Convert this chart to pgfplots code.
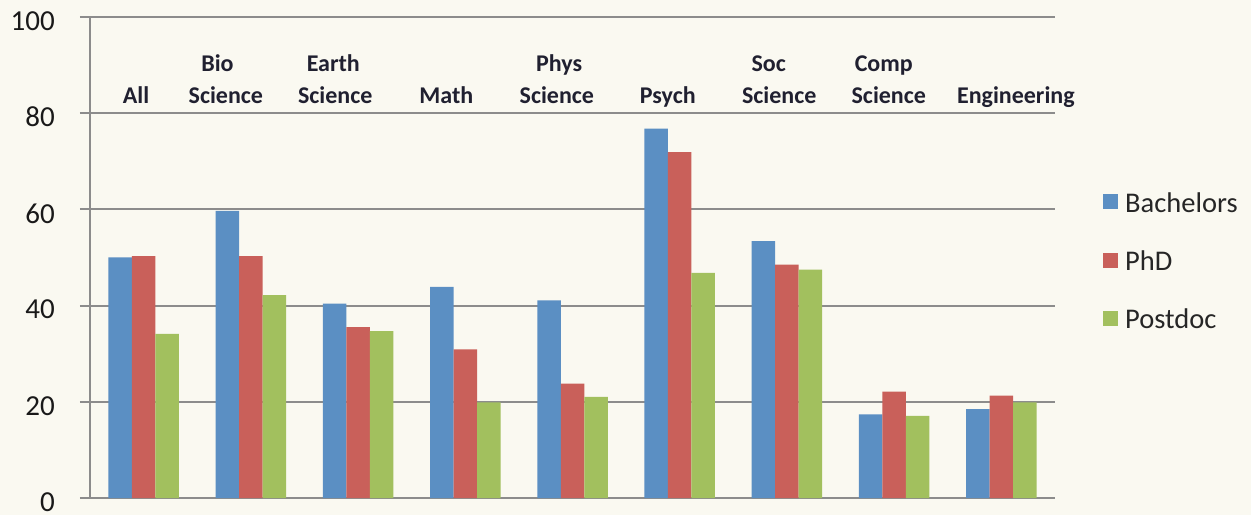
\documentclass[border=0pt]{standalone}
\usepackage{fontspec}
\setmainfont{Carlito}
\usepackage{pgfplots}
\pgfplotsset{compat=1.18}
\definecolor{cBlue}{HTML}{5B8FC3}
\definecolor{cRed}{HTML}{C9605A}
\definecolor{cGreen}{HTML}{A2C05E}
\definecolor{bgc}{HTML}{FAF9F1}
\definecolor{gridc}{HTML}{8C8C8C}
\definecolor{labc}{HTML}{202030}
\tikzset{catlab/.style={anchor=base, inner sep=0pt, text=labc, font=\bfseries\fontsize{24}{24}\selectfont}}
\begin{document}
\begin{tikzpicture}
\fill[bgc] (-90pt,-17pt) rectangle (1161pt,498pt);
\begin{axis}[
 at={(0pt,0pt)}, anchor=south west,
 scale only axis, width=965pt, height=481pt,
 ymin=0, ymax=100, xmin=-0.5, xmax=8.5,
 ybar=0pt, bar width=23.5pt,
 axis x line*=bottom, axis y line*=left,
 axis line style={gridc, line width=2pt, -},
 ytick={0,20,...,100},
 xtick=\empty,
 ymajorgrids, grid style={gridc, line width=2pt},
 tick align=outside, major tick length=10pt,
 ytick style={gridc, line width=2pt},
 yticklabel style={font=\fontsize{29}{29}\selectfont, text=black!90, anchor=east, inner sep=0pt, xshift=-25pt, yshift=-4pt},
 /pgf/number format/assume math mode=true,
 legend style={at={(1,0.5)}, anchor=west, xshift=45pt, yshift=-4pt, draw=none, fill=none,
   font=\fontsize{28.5}{34}\selectfont, text=black!85, row sep=33pt},
 legend cell align=left,
 legend image code/.code={\fill[#1] (0pt,-6pt) rectangle (15pt,9pt); \path (20pt,0pt);},
 clip=false,
]
\addplot[fill=cBlue, draw=none] coordinates {(0,50.0) (1,59.7) (2,40.4) (3,43.9) (4,41.1) (5,76.8) (6,53.4) (7,17.4) (8,18.5)};
\addlegendentry{Bachelors}
\addplot[fill=cRed, draw=none] coordinates {(0,50.3) (1,50.3) (2,35.5) (3,30.9) (4,23.8) (5,71.9) (6,48.5) (7,22.1) (8,21.3)};
\addlegendentry{PhD}
\addplot[fill=cGreen, draw=none] coordinates {(0,34.1) (1,42.2) (2,34.7) (3,19.9) (4,21.0) (5,46.8) (6,47.5) (7,17.1) (8,19.9)};
\addlegendentry{Postdoc}
\node[catlab] at (axis cs:-0.071,82.12) {All};
\node[catlab] at (axis cs:0.689,88.57) {Bio};
\node[catlab] at (axis cs:0.767,82.12) {Science};
\node[catlab] at (axis cs:1.769,88.57) {Earth};
\node[catlab] at (axis cs:1.787,82.12) {Science};
\node[catlab] at (axis cs:2.823,82.12) {Math};
\node[catlab] at (axis cs:3.876,88.57) {Phys};
\node[catlab] at (axis cs:3.854,82.12) {Science};
\node[catlab] at (axis cs:4.889,82.12) {Psych};
\node[catlab] at (axis cs:5.830,88.57) {Soc};
\node[catlab] at (axis cs:5.928,82.12) {Science};
\node[catlab] at (axis cs:6.903,88.57) {Comp};
\node[catlab] at (axis cs:6.950,82.12) {Science};
\node[catlab] at (axis cs:8.135,82.12) {Engineering};
\end{axis}
\pgfresetboundingbox
\path[use as bounding box] (-90pt,-17pt) rectangle (1161pt,498pt);
\end{tikzpicture}
\end{document}
